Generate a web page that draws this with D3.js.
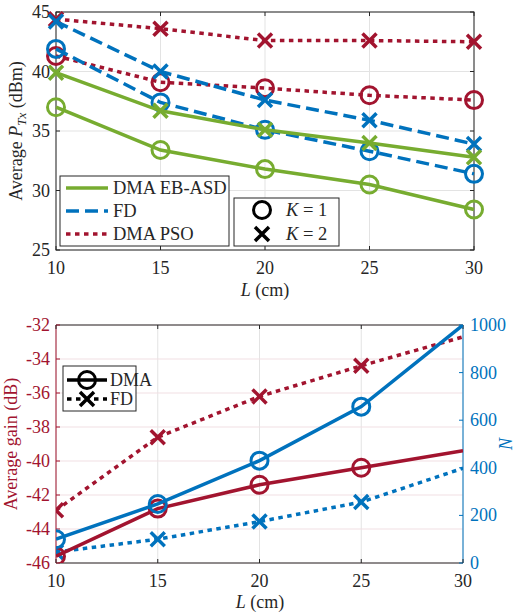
<!DOCTYPE html>
<html>
<head>
<meta charset="utf-8">
<script src="https://cdn.jsdelivr.net/npm/d3@7"></script>
</head>
<body style="margin:0;background:#fff">
<svg id="chart" width="519" height="612" font-family="Liberation Serif"></svg>
<script>
// data
const lengths = [10, 15, 20, 25, 30];

// top chart: average transmit power (dBm)
const ebasdK1 = [37.0, 33.4, 31.8, 30.5, 28.4];
const ebasdK2 = [39.9, 36.7, 35.1, 34.0, 32.8];
const fdK1 = [41.9, 37.4, 35.1, 33.3, 31.4];
const fdK2 = [44.2, 40.0, 37.6, 35.9, 33.9];
const psoK1 = [41.3, 39.1, 38.6, 38.0, 37.6];
const psoK2 = [44.4, 43.6, 42.6, 42.6, 42.5];
const topYTicks = [25, 30, 35, 40, 45];

// bottom chart: average gain (dB) and N
const gainDMA = [-45.6, -42.8, -41.4, -40.4, -39.4];
const gainFD = [-42.9, -38.6, -36.2, -34.4, -32.7];
const nDMA = [100, 248, 430, 657, 1000];
const nFD = [46, 100, 174, 256, 398];
const gainTicks = [-46, -44, -42, -40, -38, -36, -34, -32];
const nTicks = [0, 200, 400, 600, 800, 1000];

const GREEN = "#77AC30", BLUE = "#0072BD", RED = "#A2142F", DARK = "#262626";
const FONT = "'Liberation Serif', 'Times New Roman', serif";

const svg = d3.select("#chart");

function drawMarker(g, kind, x, y, color) {
    if (kind === "o") {
        g.append("circle").attr("cx", x).attr("cy", y).attr("r", 8.5)
            .attr("fill", "none").attr("stroke", color).attr("stroke-width", 3);
    } else {
        const s = 7;
        g.append("path")
            .attr("d", `M${x - s},${y - s}L${x + s},${y + s}M${x - s},${y + s}L${x + s},${y - s}`)
            .attr("stroke", color).attr("stroke-width", 3.5).attr("fill", "none");
    }
}

const dashes = { solid: null, dash: "13,6", dot: "4.5,4.5" };

function drawSeries(g, x, y, values, color, style, marker, skipLast) {
    const line = d3.line().x((d, i) => x(lengths[i])).y(d => y(d));
    g.append("path").datum(values).attr("d", line)
        .attr("fill", "none").attr("stroke", color).attr("stroke-width", 3.5)
        .attr("stroke-dasharray", dashes[style]);
    values.forEach((v, i) => {
        if (skipLast && i === values.length - 1) return;
        drawMarker(g, marker, x(lengths[i]), y(v), color);
    });
}

// ---------- top chart ----------
{
    const x = d3.scaleLinear().domain([10, 30]).range([56, 474]);
    const y = d3.scaleLinear().domain([25, 45]).range([250, 12]);
    const g = svg.append("g");

    // grid
    g.selectAll(".vg").data(lengths).enter().append("line")
        .attr("x1", d => x(d)).attr("x2", d => x(d)).attr("y1", 12).attr("y2", 250)
        .attr("stroke", "#e3e3e3");
    g.selectAll(".hg").data(topYTicks).enter().append("line")
        .attr("x1", 56).attr("x2", 474).attr("y1", d => y(d)).attr("y2", d => y(d))
        .attr("stroke", "#e3e3e3");

    // box
    g.append("rect").attr("x", 56).attr("y", 12).attr("width", 418).attr("height", 238)
        .attr("fill", "none").attr("stroke", DARK).attr("stroke-width", 1);

    // ticks
    topYTicks.forEach(t => {
        g.append("line").attr("x1", 56).attr("x2", 60).attr("y1", y(t)).attr("y2", y(t)).attr("stroke", DARK);
        g.append("line").attr("x1", 470).attr("x2", 474).attr("y1", y(t)).attr("y2", y(t)).attr("stroke", DARK);
        g.append("text").attr("x", 50).attr("y", y(t) + 6).attr("text-anchor", "end")
            .attr("font-size", 18).attr("fill", DARK).text(t);
    });
    lengths.forEach(t => {
        g.append("line").attr("x1", x(t)).attr("x2", x(t)).attr("y1", 250).attr("y2", 246).attr("stroke", DARK);
        g.append("line").attr("x1", x(t)).attr("x2", x(t)).attr("y1", 12).attr("y2", 16).attr("stroke", DARK);
        g.append("text").attr("x", x(t)).attr("y", 274).attr("text-anchor", "middle")
            .attr("font-size", 18).attr("fill", DARK).text(t);
    });

    // labels
    const xl = g.append("text").attr("x", 265).attr("y", 296).attr("text-anchor", "middle")
        .attr("font-size", 18).attr("fill", DARK);
    xl.append("tspan").attr("font-style", "italic").text("L");
    xl.append("tspan").text(" (cm)");

    const yl = g.append("text").attr("transform", "translate(22,131) rotate(-90)")
        .attr("text-anchor", "middle").attr("font-size", 18).attr("fill", DARK);
    yl.append("tspan").text("Average ");
    yl.append("tspan").attr("font-style", "italic").text("P");
    yl.append("tspan").attr("font-style", "italic").attr("font-size", 13).attr("dy", 4).text("Tx");
    yl.append("tspan").attr("dy", -4).text(" (dBm)");

    // series
    drawSeries(g, x, y, psoK2, RED, "dot", "x");
    drawSeries(g, x, y, psoK1, RED, "dot", "o");
    drawSeries(g, x, y, fdK2, BLUE, "dash", "x");
    drawSeries(g, x, y, fdK1, BLUE, "dash", "o");
    drawSeries(g, x, y, ebasdK2, GREEN, "solid", "x");
    drawSeries(g, x, y, ebasdK1, GREEN, "solid", "o");

    // legend 1
    const leg = g.append("g");
    leg.append("rect").attr("x", 60).attr("y", 176).attr("width", 169).attr("height", 70)
        .attr("fill", "#fff").attr("stroke", DARK);
    const entries = [["DMA EB-ASD", GREEN, "solid"], ["FD", BLUE, "dash"], ["DMA PSO", RED, "dot"]];
    entries.forEach((e, i) => {
        const ey = 188 + i * 23;
        leg.append("line").attr("x1", 66).attr("x2", 108).attr("y1", ey).attr("y2", ey)
            .attr("stroke", e[1]).attr("stroke-width", 3.5).attr("stroke-dasharray", dashes[e[2]]);
        leg.append("text").attr("x", 113).attr("y", ey + 6).attr("font-size", 18.5)
            .attr("fill", DARK).text(e[0]);
    });

    // legend 2
    const leg2 = g.append("g");
    leg2.append("rect").attr("x", 234).attr("y", 198).attr("width", 105).attr("height", 48)
        .attr("fill", "#fff").attr("stroke", DARK);
    [["o", "1"], ["x", "2"]].forEach((e, i) => {
        const ey = 210 + i * 24;
        drawMarker(leg2, e[0], 262, ey, "#000");
        const t = leg2.append("text").attr("x", 286).attr("y", ey + 6).attr("font-size", 18.5).attr("fill", DARK);
        t.append("tspan").attr("font-style", "italic").text("K");
        t.append("tspan").text(" = " + e[1]);
    });
}

// ---------- bottom chart ----------
{
    const x = d3.scaleLinear().domain([10, 30]).range([56, 463]);
    const yL = d3.scaleLinear().domain([-46, -32]).range([563, 325]);
    const yR = d3.scaleLinear().domain([0, 1000]).range([563, 325]);
    const g = svg.append("g");

    svg.append("clipPath").attr("id", "clipB").append("rect")
        .attr("x", 56).attr("y", 325).attr("width", 407).attr("height", 238);

    // grid
    g.selectAll(".vg").data(lengths).enter().append("line")
        .attr("x1", d => x(d)).attr("x2", d => x(d)).attr("y1", 325).attr("y2", 563)
        .attr("stroke", "#e3e3e3");
    g.selectAll(".hg").data(gainTicks).enter().append("line")
        .attr("x1", 56).attr("x2", 463).attr("y1", d => yL(d)).attr("y2", d => yL(d))
        .attr("stroke", "#f1dfe3");

    // axes lines
    g.append("line").attr("x1", 56).attr("x2", 463).attr("y1", 325).attr("y2", 325).attr("stroke", DARK);
    g.append("line").attr("x1", 56).attr("x2", 463).attr("y1", 563).attr("y2", 563).attr("stroke", DARK);
    g.append("line").attr("x1", 56).attr("x2", 56).attr("y1", 325).attr("y2", 563).attr("stroke", RED);
    g.append("line").attr("x1", 463).attr("x2", 463).attr("y1", 325).attr("y2", 563).attr("stroke", BLUE);

    gainTicks.forEach(t => {
        g.append("line").attr("x1", 56).attr("x2", 60).attr("y1", yL(t)).attr("y2", yL(t)).attr("stroke", RED);
        g.append("text").attr("x", 50).attr("y", yL(t) + 6).attr("text-anchor", "end")
            .attr("font-size", 18).attr("fill", RED).text(t);
    });
    nTicks.forEach(t => {
        g.append("line").attr("x1", 459).attr("x2", 463).attr("y1", yR(t)).attr("y2", yR(t)).attr("stroke", BLUE);
        g.append("text").attr("x", 470).attr("y", yR(t) + 6).attr("text-anchor", "start")
            .attr("font-size", 18).attr("fill", BLUE).text(t);
    });
    lengths.forEach(t => {
        g.append("line").attr("x1", x(t)).attr("x2", x(t)).attr("y1", 563).attr("y2", 559).attr("stroke", DARK);
        g.append("line").attr("x1", x(t)).attr("x2", x(t)).attr("y1", 325).attr("y2", 329).attr("stroke", DARK);
        g.append("text").attr("x", x(t)).attr("y", 587).attr("text-anchor", "middle")
            .attr("font-size", 18).attr("fill", DARK).text(t);
    });

    const xl = g.append("text").attr("x", 260).attr("y", 608).attr("text-anchor", "middle")
        .attr("font-size", 18).attr("fill", DARK);
    xl.append("tspan").attr("font-style", "italic").text("L");
    xl.append("tspan").text(" (cm)");

    g.append("text").attr("transform", "translate(17,444) rotate(-90)")
        .attr("text-anchor", "middle").attr("font-size", 18).attr("fill", RED).text("Average gain (dB)");
    g.append("text").attr("transform", "translate(512,444) rotate(-90)")
        .attr("text-anchor", "middle").attr("font-size", 18).attr("font-style", "italic")
        .attr("fill", BLUE).text("N");

    const pg = g.append("g").attr("clip-path", "url(#clipB)");
    drawSeries(pg, x, yL, gainFD, RED, "dot", "x", true);
    drawSeries(pg, x, yR, nFD, BLUE, "dot", "x", true);
    drawSeries(pg, x, yL, gainDMA, RED, "solid", "o", true);
    drawSeries(pg, x, yR, nDMA, BLUE, "solid", "o", true);

    // legend
    const leg = g.append("g");
    leg.append("rect").attr("x", 63).attr("y", 366).attr("width", 73).attr("height", 45)
        .attr("fill", "#fff").attr("stroke", DARK);
    [["DMA", "solid", "o"], ["FD", "dot", "x"]].forEach((e, i) => {
        const ey = 380 + i * 19;
        leg.append("line").attr("x1", 67).attr("x2", 107).attr("y1", ey).attr("y2", ey)
            .attr("stroke", "#000").attr("stroke-width", 3.5).attr("stroke-dasharray", dashes[e[1]]);
        drawMarker(leg, e[2], 87, ey, "#000");
        leg.append("text").attr("x", 110).attr("y", ey + 6).attr("font-size", 18)
            .attr("fill", DARK).text(e[0]);
    });
}

// font forced on every text node
svg.selectAll("text, tspan").style("font-family", FONT, "important");
</script>
</body>
</html>
